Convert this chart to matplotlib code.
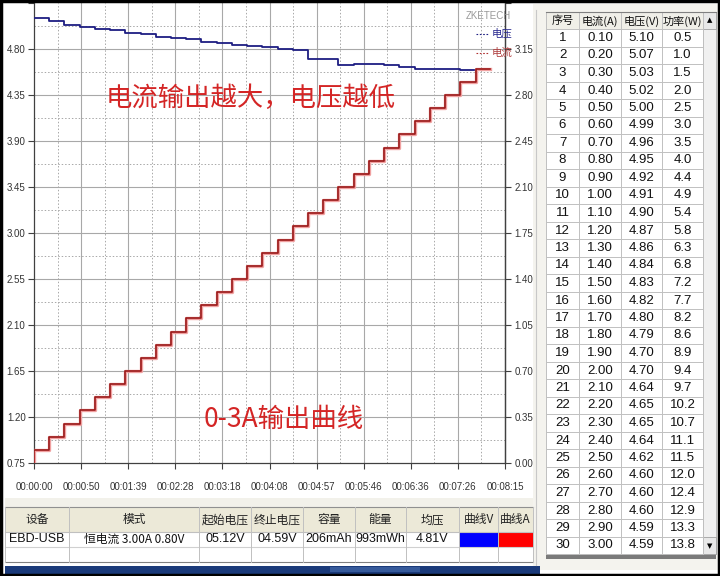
import matplotlib
matplotlib.use("Agg")
import matplotlib.pyplot as plt
from matplotlib.lines import Line2D
from matplotlib.patches import Rectangle
import matplotlib.patheffects as pe

# ---------------- data ----------------
step_times = [0, 16, 32, 48, 64, 80, 96, 112, 128, 144, 160, 176, 192, 208, 224,
              240, 256, 272, 288, 304, 320, 336, 352, 368, 384, 400, 416, 432, 448, 464]
end_time = 479
currents = [0.10, 0.20, 0.30, 0.40, 0.50, 0.60, 0.70, 0.80, 0.90, 1.00,
            1.10, 1.20, 1.30, 1.40, 1.50, 1.60, 1.70, 1.80, 1.90, 2.00,
            2.10, 2.20, 2.30, 2.40, 2.50, 2.60, 2.70, 2.80, 2.90, 3.00]
voltages = [5.10, 5.07, 5.03, 5.02, 5.00, 4.99, 4.96, 4.95, 4.92, 4.91,
            4.90, 4.87, 4.86, 4.84, 4.83, 4.82, 4.80, 4.79, 4.70, 4.70,
            4.64, 4.65, 4.65, 4.64, 4.62, 4.60, 4.60, 4.60, 4.59, 4.59]
powers = [0.5, 1.0, 1.5, 2.0, 2.5, 3.0, 3.5, 4.0, 4.4, 4.9,
          5.4, 5.8, 6.3, 6.8, 7.2, 7.7, 8.2, 8.6, 8.9, 9.4,
          9.7, 10.2, 10.7, 11.1, 11.5, 12.0, 12.4, 12.9, 13.3, 13.8]
x_tick_pos = [0, 49.5, 99, 148.5, 198, 247.5, 297, 346.5, 396, 445.5, 495]
x_tick_labels = ["00:00:00", "00:00:50", "00:01:39", "00:02:28", "00:03:18", "00:04:08",
                 "00:04:57", "00:05:46", "00:06:36", "00:07:26", "00:08:15"]
left_ticks = [0.75, 1.20, 1.65, 2.10, 2.55, 3.00, 3.45, 3.90, 4.35, 4.80, 5.25]
right_ticks = [0.00, 0.35, 0.70, 1.05, 1.40, 1.75, 2.10, 2.45, 2.80, 3.15, 3.50]
summary_headers = ["设备", "模式", "起始电压", "终止电压", "容量", "能量", "均压", "曲线V", "曲线A"]
summary_values = ["EBD-USB", "恒电流 3.00A 0.80V", "05.12V", "04.59V", "206mAh", "993mWh", "4.81V", "", ""]
table_headers = ["序号", "电流(A)", "电压(V)", "功率(W)"]

CJK = ["Noto Sans CJK SC", "DejaVu Sans"]
NUM = ["Liberation Sans Narrow", "Liberation Sans", "DejaVu Sans"]
plt.rcParams["font.family"] = CJK

W, H = 720, 576
fig = plt.figure(figsize=(7.2, 5.76), dpi=100)
fig.patch.set_facecolor("white")

def fx(x):
    return x / W

def fy(y):
    return 1 - y / H

def frect(x0, y0, x1, y1, **kw):
    fig.patches.append(Rectangle((fx(x0), fy(y1)), (x1 - x0) / W, (y1 - y0) / H,
                                 transform=fig.transFigure, **kw))

def fline(xs, ys, **kw):
    fig.lines.append(Line2D([fx(x) for x in xs], [fy(y) for y in ys],
                            transform=fig.transFigure, **kw))

# ---------------- main chart ----------------
ax = fig.add_axes([fx(34), fy(463), (505 - 34) / W, (463 - 3) / H])
ax.set_xlim(0, 495)
ax.set_ylim(0.75, 5.25)
ax.set_facecolor("white")
ax.spines["top"].set_visible(False)
for s in ["left", "bottom", "right"]:
    ax.spines[s].set_color("#404040")
    ax.spines[s].set_linewidth(0.9)

ax.set_xticks(x_tick_pos)
ax.set_xticklabels(x_tick_labels, family=NUM, fontsize=7, color="#333333")
ax.set_yticks(left_ticks)
ax.set_yticklabels(["%.2f" % v if v < 5.2 else "" for v in left_ticks], family=NUM,
                   fontsize=7, color="#333333")
ax.tick_params(axis="x", direction="out", length=4, pad=10, color="#404040")
ax.tick_params(axis="y", direction="out", length=4, pad=2, color="#404040")

# grids
for xv in x_tick_pos[1:-1]:
    ax.axvline(xv, color="#a8a8a8", lw=0.8, zorder=0)
for i in range(len(x_tick_pos) - 1):
    ax.axvline((x_tick_pos[i] + x_tick_pos[i + 1]) / 2, color="#a8a8a8", lw=0.7,
               ls=(0, (1.5, 2)), zorder=0)
for yv in left_ticks[1:-1]:
    ax.axhline(yv, color="#a8a8a8", lw=0.8, zorder=0)
for i in range(len(left_ticks) - 1):
    ax.axhline((left_ticks[i] + left_ticks[i + 1]) / 2, color="#a8a8a8", lw=0.7,
               ls=(0, (1.5, 2)), zorder=0)

# voltage curve (left axis)
ax.step(step_times + [end_time], voltages + [voltages[-1]], where="post",
        color="#1e1e82", lw=1.3, zorder=3)

# current curve (right axis)
ax2 = ax.twinx()
ax2.set_ylim(0, 3.5)
ax2.set_yticks(right_ticks)
ax2.set_yticklabels(["%.2f" % v if v < 3.4 else "" for v in right_ticks], family=NUM,
                    fontsize=7, color="#333333")
ax2.tick_params(axis="y", direction="out", length=4, pad=3, color="#404040")
for s in ["top", "left", "bottom"]:
    ax2.spines[s].set_visible(False)
ax2.spines["right"].set_color("#404040")
ax2.spines["right"].set_linewidth(0.9)
ax2.step([0] + step_times + [end_time], [0.0] + currents + [currents[-1]], where="post",
         color="#9a1a1a", lw=1.2, zorder=3,
         path_effects=[pe.Stroke(linewidth=2.4, foreground="#f0a0a0"), pe.Normal()])

# annotations
fig.text(fx(251), fy(98), "电流输出越大，电压越低", color="#d42525", fontsize=19,
         ha="center", va="center", family=CJK)
fig.text(fx(284), fy(419), "0-3A输出曲线", color="#d42525", fontsize=19,
         ha="center", va="center", family=CJK)

# legend
fig.text(fx(488), fy(16), "ZKETECH", color="#999999", fontsize=7, ha="center", va="center",
         family=NUM)
fline([476, 489], [34, 34], color="#1e1e82", lw=0.8, ls=(0, (1.5, 1.5)))
fig.text(fx(492), fy(34), "电压", color="#2a2a90", fontsize=7.5, ha="left", va="center", family=CJK)
fline([476, 489], [53, 53], color="#b03030", lw=0.8, ls=(0, (1.5, 1.5)))
fig.text(fx(492), fy(53), "电流", color="#b04040", fontsize=7.5, ha="left", va="center", family=CJK)

# ---------------- right data table ----------------
frect(533, 4, 718, 570, facecolor="#f4f3ee", edgecolor="none", zorder=-1)
fline([536, 536], [10, 565], color="#c8c8c8", lw=0.8)
col_b = [546, 579, 621, 662, 703]
row_h = 17.5
top_line = 29.25
frect(546, 12, 703, top_line, facecolor="#f0efe8", edgecolor="none")
frect(546, top_line, 703, top_line + 30 * row_h, facecolor="white", edgecolor="none")
for i in range(31):
    yy = top_line + i * row_h
    fline([546, 703], [yy, yy], color="#c0c0c0", lw=0.7)
for xb in col_b:
    fline([xb, xb], [12, top_line + 30 * row_h], color="#c0c0c0", lw=0.7)
fline([546, 716], [12, 12], color="#808080", lw=0.8)
frect(546, 554, 716, 559, facecolor="#7a7a7a", edgecolor="none")
# scrollbar
frect(703, 12, 716, 554, facecolor="#f0f0f0", edgecolor="#b0b0b0", lw=0.6)
frect(703, 12, 716, 29, facecolor="#e8e8e8", edgecolor="#a0a0a0", lw=0.6)
frect(703, 537, 716, 554, facecolor="#e8e8e8", edgecolor="#a0a0a0", lw=0.6)
fig.text(fx(709.5), fy(20), "▲", fontsize=5, ha="center", va="center", family=["DejaVu Sans"])
fig.text(fx(709.5), fy(546), "▼", fontsize=5, ha="center", va="center", family=["DejaVu Sans"])

centers = [(col_b[i] + col_b[i + 1]) / 2 for i in range(4)]
for c, h in zip(centers, table_headers):
    fig.text(fx(c), fy(21), h, fontsize=8, ha="center", va="center", family=CJK, color="#111111")
for i in range(30):
    yc = top_line + (i + 0.5) * row_h
    vals = [str(i + 1), "%.2f" % currents[i], "%.2f" % voltages[i], "%.1f" % powers[i]]
    for c, v in zip(centers, vals):
        fig.text(fx(c), fy(yc), v, fontsize=9.5, ha="center", va="center", family=NUM,
                 color="#111111")

# ---------------- bottom summary table ----------------
sb = [5, 69, 199, 251, 303, 355, 406, 459, 498, 533]
frect(5, 498, 533, 507, facecolor="#f2f1ea", edgecolor="none")
frect(5, 507, 533, 532, facecolor="#ece9d8", edgecolor="none")
frect(5, 532, 533, 562, facecolor="white", edgecolor="none")
frect(459, 532, 498, 547, facecolor="#0000ff", edgecolor="none")
frect(498, 532, 533, 547, facecolor="#ff0000", edgecolor="none")
for yy, c in [(507, "#909090"), (532, "#c0c0c0"), (547, "#d0d0d0"), (562, "#808080")]:
    fline([5, 533], [yy, yy], color=c, lw=0.8)
for xb in sb:
    fline([xb, xb], [507, 562], color="#c0c0c0", lw=0.7)
for i in range(len(summary_headers)):
    c = (sb[i] + sb[i + 1]) / 2
    fig.text(fx(c), fy(520), summary_headers[i], fontsize=8.5, ha="center", va="center",
             family=CJK, color="#222222")
    if summary_values[i]:
        fam = CJK if i == 1 else NUM
        fs = 8.5 if i == 1 else 9
        fig.text(fx(c), fy(539.5), summary_values[i], fontsize=fs, ha="center", va="center",
                 family=fam, color="#111111")

# bottom dark blue bar
frect(5, 566, 540, 575, facecolor="#1a3a7a", edgecolor="none")
frect(330, 567, 420, 572, facecolor="#4a70b0", edgecolor="none", alpha=0.6)

# window border
frect(1, 1, 719, 575, facecolor="none", edgecolor="black", lw=2.5, zorder=10)

fig.savefig("out.png", dpi=100)
